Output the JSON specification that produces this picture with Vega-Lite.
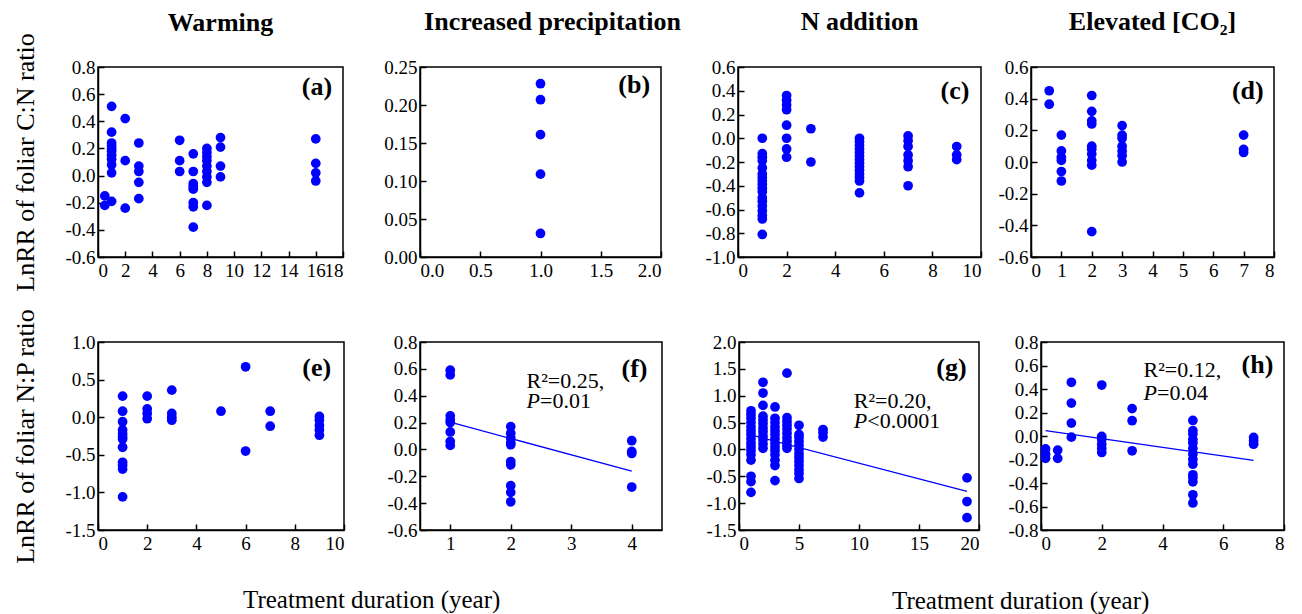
{
  "$schema": "https://vega.github.io/schema/vega-lite/v6.json",
  "padding": {"left": 11, "top": 8, "right": 5, "bottom": 0},
  "config": {
    "font": "Times New Roman, Liberation Serif, serif",
    "view": {"stroke": "black", "strokeWidth": 1.5},
    "axis": {
      "domainColor": "black", "domainWidth": 1.5,
      "tickColor": "black", "tickWidth": 1.5, "tickSize": -6,
      "labelFont": "Times New Roman, Liberation Serif, serif", "labelFontSize": 19, "labelColor": "black",
      "grid": false,
      "titleFont": "Times New Roman, Liberation Serif, serif", "titleFontSize": 26, "titleFontWeight": "normal", "titleColor": "black",
      "labelExpr": "replace(datum.label, '\u2212', '-')"
    },
    "axisX": {"labelPadding": 10, "title": null, "labelOverlap": false},
    "axisY": {"labelPadding": 9, "labelOverlap": false},
    "text": {"font": "Times New Roman, Liberation Serif, serif"},
    "title": {"font": "Times New Roman, Liberation Serif, serif", "fontSize": 26, "fontWeight": "bold", "color": "black", "frame": "group", "offset": 23}
  },
  "datasets": {
    "a": [
      {"x":0.5,"y":-0.15},{"x":0.5,"y":-0.22},
      {"x":1,"y":0.51},{"x":1,"y":0.32},{"x":1,"y":0.24},{"x":1,"y":0.22},{"x":1,"y":0.2},{"x":1,"y":0.18},{"x":1,"y":0.15},{"x":1,"y":0.12},{"x":1,"y":0.08},{"x":1,"y":0.02},{"x":1,"y":-0.19},
      {"x":2,"y":0.42},{"x":2,"y":0.11},{"x":2,"y":-0.24},
      {"x":3,"y":0.24},{"x":3,"y":0.07},{"x":3,"y":0.03},{"x":3,"y":-0.05},{"x":3,"y":-0.17},
      {"x":6,"y":0.26},{"x":6,"y":0.11},{"x":6,"y":0.03},
      {"x":7,"y":0.16},{"x":7,"y":0.03},{"x":7,"y":-0.06},{"x":7,"y":-0.08},{"x":7,"y":-0.1},{"x":7,"y":-0.2},{"x":7,"y":-0.23},{"x":7,"y":-0.38},
      {"x":8,"y":0.2},{"x":8,"y":0.17},{"x":8,"y":0.14},{"x":8,"y":0.11},{"x":8,"y":0.07},{"x":8,"y":0.03},{"x":8,"y":-0.01},{"x":8,"y":-0.05},{"x":8,"y":-0.22},
      {"x":9,"y":0.28},{"x":9,"y":0.21},{"x":9,"y":0.07},{"x":9,"y":-0.01},
      {"x":16,"y":0.27},{"x":16,"y":0.09},{"x":16,"y":0.02},{"x":16,"y":-0.04}
    ],
    "b": [
      {"x":1,"y":0.228},{"x":1,"y":0.207},{"x":1,"y":0.161},{"x":1,"y":0.109},{"x":1,"y":0.031}
    ],
    "c": [
      {"x":1,"y":0.0},{"x":1,"y":-0.13},{"x":1,"y":-0.16},{"x":1,"y":-0.19},{"x":1,"y":-0.25},{"x":1,"y":-0.3},{"x":1,"y":-0.33},{"x":1,"y":-0.36},{"x":1,"y":-0.39},{"x":1,"y":-0.42},{"x":1,"y":-0.45},{"x":1,"y":-0.5},{"x":1,"y":-0.53},{"x":1,"y":-0.57},{"x":1,"y":-0.61},{"x":1,"y":-0.65},{"x":1,"y":-0.68},{"x":1,"y":-0.81},
      {"x":2,"y":0.36},{"x":2,"y":0.32},{"x":2,"y":0.28},{"x":2,"y":0.24},{"x":2,"y":0.11},{"x":2,"y":0.0},{"x":2,"y":-0.09},{"x":2,"y":-0.16},
      {"x":3,"y":0.08},{"x":3,"y":-0.2},
      {"x":5,"y":0.0},{"x":5,"y":-0.03},{"x":5,"y":-0.06},{"x":5,"y":-0.09},{"x":5,"y":-0.12},{"x":5,"y":-0.15},{"x":5,"y":-0.18},{"x":5,"y":-0.21},{"x":5,"y":-0.24},{"x":5,"y":-0.27},{"x":5,"y":-0.3},{"x":5,"y":-0.33},{"x":5,"y":-0.36},{"x":5,"y":-0.46},
      {"x":7,"y":0.02},{"x":7,"y":-0.02},{"x":7,"y":-0.07},{"x":7,"y":-0.14},{"x":7,"y":-0.19},{"x":7,"y":-0.24},{"x":7,"y":-0.4},
      {"x":9,"y":-0.07},{"x":9,"y":-0.14},{"x":9,"y":-0.18}
    ],
    "d": [
      {"x":0.6,"y":0.45},{"x":0.6,"y":0.365},
      {"x":1,"y":0.17},{"x":1,"y":0.07},{"x":1,"y":0.03},{"x":1,"y":0.01},{"x":1,"y":-0.06},{"x":1,"y":-0.12},
      {"x":2,"y":0.42},{"x":2,"y":0.32},{"x":2,"y":0.26},{"x":2,"y":0.24},{"x":2,"y":0.1},{"x":2,"y":0.08},{"x":2,"y":0.05},{"x":2,"y":0.01},{"x":2,"y":-0.02},{"x":2,"y":-0.44},
      {"x":3,"y":0.23},{"x":3,"y":0.17},{"x":3,"y":0.15},{"x":3,"y":0.1},{"x":3,"y":0.07},{"x":3,"y":0.04},{"x":3,"y":0.0},
      {"x":7,"y":0.17},{"x":7,"y":0.08},{"x":7,"y":0.06}
    ],
    "e": [
      {"x":1,"y":0.28},{"x":1,"y":0.08},{"x":1,"y":-0.06},{"x":1,"y":-0.17},{"x":1,"y":-0.22},{"x":1,"y":-0.26},{"x":1,"y":-0.29},{"x":1,"y":-0.4},{"x":1,"y":-0.6},{"x":1,"y":-0.64},{"x":1,"y":-0.69},{"x":1,"y":-1.06},
      {"x":2,"y":0.28},{"x":2,"y":0.11},{"x":2,"y":0.05},{"x":2,"y":-0.02},
      {"x":3,"y":0.36},{"x":3,"y":0.05},{"x":3,"y":0.0},{"x":3,"y":-0.04},
      {"x":5,"y":0.08},
      {"x":6,"y":0.67},{"x":6,"y":-0.45},
      {"x":7,"y":0.08},{"x":7,"y":-0.12},
      {"x":9,"y":0.01},{"x":9,"y":-0.04},{"x":9,"y":-0.11},{"x":9,"y":-0.17},{"x":9,"y":-0.24}
    ],
    "f": [
      {"x":1,"y":0.59},{"x":1,"y":0.555},{"x":1,"y":0.25},{"x":1,"y":0.22},{"x":1,"y":0.2},{"x":1,"y":0.13},{"x":1,"y":0.06},{"x":1,"y":0.03},
      {"x":2,"y":0.17},{"x":2,"y":0.12},{"x":2,"y":0.085},{"x":2,"y":0.05},{"x":2,"y":0.035},{"x":2,"y":-0.09},{"x":2,"y":-0.115},{"x":2,"y":-0.27},{"x":2,"y":-0.32},{"x":2,"y":-0.39},
      {"x":4,"y":0.065},{"x":4,"y":-0.015},{"x":4,"y":-0.03},{"x":4,"y":-0.28}
    ],
    "g": [
      {"x":1,"y":0.72},{"x":1,"y":0.65},{"x":1,"y":0.58},{"x":1,"y":0.5},{"x":1,"y":0.42},{"x":1,"y":0.35},{"x":1,"y":0.28},{"x":1,"y":0.2},{"x":1,"y":0.12},{"x":1,"y":0.05},{"x":1,"y":-0.02},{"x":1,"y":-0.1},{"x":1,"y":-0.2},{"x":1,"y":-0.5},{"x":1,"y":-0.6},{"x":1,"y":-0.8},
      {"x":2,"y":1.25},{"x":2,"y":1.05},{"x":2,"y":0.82},{"x":2,"y":0.62},{"x":2,"y":0.55},{"x":2,"y":0.48},{"x":2,"y":0.4},{"x":2,"y":0.33},{"x":2,"y":0.25},{"x":2,"y":0.18},{"x":2,"y":0.1},{"x":2,"y":0.02},
      {"x":3,"y":0.79},{"x":3,"y":0.58},{"x":3,"y":0.5},{"x":3,"y":0.42},{"x":3,"y":0.35},{"x":3,"y":0.28},{"x":3,"y":0.2},{"x":3,"y":0.12},{"x":3,"y":0.05},{"x":3,"y":-0.02},{"x":3,"y":-0.1},{"x":3,"y":-0.2},{"x":3,"y":-0.3},{"x":3,"y":-0.58},
      {"x":4,"y":1.42},{"x":4,"y":0.59},{"x":4,"y":0.52},{"x":4,"y":0.45},{"x":4,"y":0.38},{"x":4,"y":0.3},{"x":4,"y":0.22},{"x":4,"y":0.15},{"x":4,"y":0.08},{"x":4,"y":0.02},
      {"x":5,"y":0.45},{"x":5,"y":0.28},{"x":5,"y":0.22},{"x":5,"y":0.15},{"x":5,"y":0.08},{"x":5,"y":0.0},{"x":5,"y":-0.08},{"x":5,"y":-0.15},{"x":5,"y":-0.22},{"x":5,"y":-0.3},{"x":5,"y":-0.38},{"x":5,"y":-0.45},{"x":5,"y":-0.54},
      {"x":7,"y":0.37},{"x":7,"y":0.31},{"x":7,"y":0.23},
      {"x":19,"y":-0.53},{"x":19,"y":-0.97},{"x":19,"y":-1.27}
    ],
    "h": [
      {"x":0.15,"y":-0.11},{"x":0.15,"y":-0.155},{"x":0.15,"y":-0.19},
      {"x":0.55,"y":-0.12},{"x":0.55,"y":-0.19},
      {"x":1,"y":0.457},{"x":1,"y":0.28},{"x":1,"y":0.11},{"x":1,"y":-0.01},
      {"x":2,"y":0.434},{"x":2,"y":-0.003},{"x":2,"y":-0.03},{"x":2,"y":-0.07},{"x":2,"y":-0.106},{"x":2,"y":-0.14},
      {"x":3,"y":0.233},{"x":3,"y":0.13},{"x":3,"y":-0.126},
      {"x":5,"y":0.132},{"x":5,"y":0.046},{"x":5,"y":0.017},{"x":5,"y":-0.03},{"x":5,"y":-0.06},{"x":5,"y":-0.106},{"x":5,"y":-0.155},{"x":5,"y":-0.2},{"x":5,"y":-0.24},{"x":5,"y":-0.33},{"x":5,"y":-0.356},{"x":5,"y":-0.39},{"x":5,"y":-0.5},{"x":5,"y":-0.57},
      {"x":7,"y":-0.012},{"x":7,"y":-0.04},{"x":7,"y":-0.07}
    ]
  },
  "spacing": 14,
  "vconcat": [
    {
      "spacing": 14,
      "hconcat": [
        {
          "bounds": "flush",
          "spacing": 77,
          "hconcat": [
            {
              "width": 245, "height": 190,
              "title": {"text": "Warming", "dy": 26},
              "encoding": {
                "x": {"field": "x", "type": "quantitative", "scale": {"domain": [0, 18], "nice": false, "zero": false}, "axis": {"values": [0,2,4,6,8,10,12,14,16,18], "format": "d"}},
                "y": {"field": "y", "type": "quantitative", "scale": {"domain": [-0.6, 0.8], "nice": false, "zero": false}, "axis": {"values": [-0.6,-0.4,-0.2,0,0.2,0.4,0.6,0.8], "format": ".1f", "title": "LnRR of foliar C:N ratio", "titlePadding": 20, "minExtent": 40, "maxExtent": 40}}
              },
              "layer": [
                {"data": {"name": "a"}, "mark": {"type": "point", "filled": true, "size": 95, "color": "#0000ff", "opacity": 1}},
                {"data": {"values": [{"x": 17.2, "y": 0.65, "t": "(a)"}]}, "mark": {"type": "text", "align": "right", "baseline": "middle", "fontWeight": "bold", "fontSize": 26, "color": "black"}, "encoding": {"text": {"field": "t"}}}
              ]
            },
            {
              "width": 241, "height": 190,
              "title": {"text": "Increased precipitation", "dx": 12},
              "encoding": {
                "x": {"field": "x", "type": "quantitative", "scale": {"domain": [0, 2], "nice": false, "zero": false}, "axis": {"values": [0,0.5,1,1.5,2], "format": ".1f"}},
                "y": {"field": "y", "type": "quantitative", "scale": {"domain": [0, 0.25], "nice": false, "zero": false}, "axis": {"values": [0,0.05,0.1,0.15,0.2,0.25], "format": ".2f", "title": null}}
              },
              "layer": [
                {"data": {"name": "b"}, "mark": {"type": "point", "filled": true, "size": 95, "color": "#0000ff", "opacity": 1}},
                {"data": {"values": [{"x": 1.91, "y": 0.226, "t": "(b)"}]}, "mark": {"type": "text", "align": "right", "baseline": "middle", "fontWeight": "bold", "fontSize": 26, "color": "black"}, "encoding": {"text": {"field": "t"}}}
              ]
            },
            {
              "width": 243, "height": 190,
              "title": {"text": "N addition"},
              "encoding": {
                "x": {"field": "x", "type": "quantitative", "scale": {"domain": [0, 10], "nice": false, "zero": false}, "axis": {"values": [0,2,4,6,8,10], "format": "d"}},
                "y": {"field": "y", "type": "quantitative", "scale": {"domain": [-1.0, 0.6], "nice": false, "zero": false}, "axis": {"values": [-1,-0.8,-0.6,-0.4,-0.2,0,0.2,0.4,0.6], "format": ".1f", "title": null}}
              },
              "layer": [
                {"data": {"name": "c"}, "mark": {"type": "point", "filled": true, "size": 95, "color": "#0000ff", "opacity": 1}},
                {"data": {"values": [{"x": 9.52, "y": 0.394, "t": "(c)"}]}, "mark": {"type": "text", "align": "right", "baseline": "middle", "fontWeight": "bold", "fontSize": 26, "color": "black"}, "encoding": {"text": {"field": "t"}}}
              ]
            }
          ]
        },
        {
          "width": 243, "height": 190,
          "title": {"text": "Elevated [CO₂]"},
          "encoding": {
            "x": {"field": "x", "type": "quantitative", "scale": {"domain": [0, 8], "nice": false, "zero": false}, "axis": {"values": [0,1,2,3,4,5,6,7,8], "format": "d"}},
            "y": {"field": "y", "type": "quantitative", "scale": {"domain": [-0.6, 0.6], "nice": false, "zero": false}, "axis": {"values": [-0.6,-0.4,-0.2,0,0.2,0.4,0.6], "format": ".1f", "title": null}}
          },
          "layer": [
            {"data": {"name": "d"}, "mark": {"type": "point", "filled": true, "size": 95, "color": "#0000ff", "opacity": 1}},
            {"data": {"values": [{"x": 7.66, "y": 0.45, "t": "(d)"}]}, "mark": {"type": "text", "align": "right", "baseline": "middle", "fontWeight": "bold", "fontSize": 26, "color": "black"}, "encoding": {"text": {"field": "t"}}}
          ]
        }
      ]
    },
    {
      "spacing": 42,
      "hconcat": [
        {
          "bounds": "flush",
          "spacing": 76,
          "title": {"text": "Treatment duration (year)", "orient": "bottom", "fontSize": 25, "fontWeight": "normal", "offset": 23, "dx": 145},
          "hconcat": [
            {
              "width": 246, "height": 188,
              "encoding": {
                "x": {"field": "x", "type": "quantitative", "scale": {"domain": [0, 10], "nice": false, "zero": false}, "axis": {"values": [0,2,4,6,8,10], "format": "d"}},
                "y": {"field": "y", "type": "quantitative", "scale": {"domain": [-1.5, 1.0], "nice": false, "zero": false}, "axis": {"values": [-1.5,-1,-0.5,0,0.5,1], "format": ".1f", "title": "LnRR of foliar N:P ratio", "titlePadding": 20, "minExtent": 40, "maxExtent": 40}}
              },
              "layer": [
                {"data": {"name": "e"}, "mark": {"type": "point", "filled": true, "size": 95, "color": "#0000ff", "opacity": 1}},
                {"data": {"values": [{"x": 9.48, "y": 0.658, "t": "(e)"}]}, "mark": {"type": "text", "align": "right", "baseline": "middle", "fontWeight": "bold", "fontSize": 26, "color": "black"}, "encoding": {"text": {"field": "t"}}}
              ]
            },
            {
              "width": 242, "height": 188,
              "encoding": {
                "x": {"field": "x", "type": "quantitative", "scale": {"domain": [0.5, 4.5], "nice": false, "zero": false}, "axis": {"values": [1,2,3,4], "format": "d"}},
                "y": {"field": "y", "type": "quantitative", "scale": {"domain": [-0.6, 0.8], "nice": false, "zero": false}, "axis": {"values": [-0.6,-0.4,-0.2,0,0.2,0.4,0.6,0.8], "format": ".1f", "title": null}}
              },
              "layer": [
                {"data": {"name": "f"}, "mark": {"type": "point", "filled": true, "size": 95, "color": "#0000ff", "opacity": 1}},
                {"data": {"values": [{"x": 1, "y": 0.203}, {"x": 4, "y": -0.162}]}, "mark": {"type": "line", "color": "#0000ff", "strokeWidth": 1.3}, "encoding": {}},
                {"data": {"values": [{"x": 4.26, "y": 0.6, "t": "(f)"}]}, "mark": {"type": "text", "align": "right", "baseline": "middle", "fontWeight": "bold", "fontSize": 26, "color": "black"}, "encoding": {"text": {"field": "t"}}},
                {"data": {"values": [{"x": 2.26, "y": 0.512, "t": "R²=0.25,"}]}, "mark": {"type": "text", "align": "left", "baseline": "middle", "fontSize": 22, "color": "black"}, "encoding": {"text": {"field": "t"}}},
                {"data": {"values": [{"x": 2.26, "y": 0.361, "t": "=0.01"}]}, "mark": {"type": "text", "align": "left", "baseline": "middle", "fontSize": 22, "color": "black", "dx": 13.5}, "encoding": {"text": {"field": "t"}}},
                {"data": {"values": [{"x": 2.26, "y": 0.361, "t": "P"}]}, "mark": {"type": "text", "align": "left", "baseline": "middle", "fontSize": 22, "fontStyle": "italic", "color": "black"}, "encoding": {"text": {"field": "t"}}}
              ]
            }
          ]
        },
        {
          "bounds": "flush",
          "spacing": 62,
          "title": {"text": "Treatment duration (year)", "orient": "bottom", "fontSize": 25, "fontWeight": "normal", "offset": 35, "dx": 153},
          "hconcat": [
            {
              "width": 240, "height": 188,
              "encoding": {
                "x": {"field": "x", "type": "quantitative", "scale": {"domain": [0, 20], "nice": false, "zero": false}, "axis": {"values": [0,5,10,15,20], "format": "d"}},
                "y": {"field": "y", "type": "quantitative", "scale": {"domain": [-1.5, 2.0], "nice": false, "zero": false}, "axis": {"values": [-1.5,-1,-0.5,0,0.5,1,1.5,2], "format": ".1f", "title": null}}
              },
              "layer": [
                {"data": {"name": "g"}, "mark": {"type": "point", "filled": true, "size": 95, "color": "#0000ff", "opacity": 1}},
                {"data": {"values": [{"x": 1, "y": 0.27}, {"x": 19, "y": -0.78}]}, "mark": {"type": "line", "color": "#0000ff", "strokeWidth": 1.3}, "encoding": {}},
                {"data": {"values": [{"x": 18.97, "y": 1.507, "t": "(g)"}]}, "mark": {"type": "text", "align": "right", "baseline": "middle", "fontWeight": "bold", "fontSize": 26, "color": "black"}, "encoding": {"text": {"field": "t"}}},
                {"data": {"values": [{"x": 9.56, "y": 0.908, "t": "R²=0.20,"}]}, "mark": {"type": "text", "align": "left", "baseline": "middle", "fontSize": 22, "color": "black"}, "encoding": {"text": {"field": "t"}}},
                {"data": {"values": [{"x": 9.56, "y": 0.53, "t": "<0.0001"}]}, "mark": {"type": "text", "align": "left", "baseline": "middle", "fontSize": 22, "color": "black", "dx": 13.5}, "encoding": {"text": {"field": "t"}}},
                {"data": {"values": [{"x": 9.56, "y": 0.53, "t": "P"}]}, "mark": {"type": "text", "align": "left", "baseline": "middle", "fontSize": 22, "fontStyle": "italic", "color": "black"}, "encoding": {"text": {"field": "t"}}}
              ]
            },
            {
              "width": 243, "height": 188,
              "encoding": {
                "x": {"field": "x", "type": "quantitative", "scale": {"domain": [0, 8], "nice": false, "zero": false}, "axis": {"values": [0,2,4,6,8], "format": "d"}},
                "y": {"field": "y", "type": "quantitative", "scale": {"domain": [-0.8, 0.8], "nice": false, "zero": false}, "axis": {"values": [-0.8,-0.6,-0.4,-0.2,0,0.2,0.4,0.6,0.8], "format": ".1f", "title": null}}
              },
              "layer": [
                {"data": {"name": "h"}, "mark": {"type": "point", "filled": true, "size": 95, "color": "#0000ff", "opacity": 1}},
                {"data": {"values": [{"x": 0.15, "y": 0.046}, {"x": 7, "y": -0.207}]}, "mark": {"type": "line", "color": "#0000ff", "strokeWidth": 1.3}, "encoding": {}},
                {"data": {"values": [{"x": 7.65, "y": 0.606, "t": "(h)"}]}, "mark": {"type": "text", "align": "right", "baseline": "middle", "fontWeight": "bold", "fontSize": 26, "color": "black"}, "encoding": {"text": {"field": "t"}}},
                {"data": {"values": [{"x": 3.375, "y": 0.563, "t": "R²=0.12,"}]}, "mark": {"type": "text", "align": "left", "baseline": "middle", "fontSize": 22, "color": "black"}, "encoding": {"text": {"field": "t"}}},
                {"data": {"values": [{"x": 3.375, "y": 0.362, "t": "=0.04"}]}, "mark": {"type": "text", "align": "left", "baseline": "middle", "fontSize": 22, "color": "black", "dx": 13.5}, "encoding": {"text": {"field": "t"}}},
                {"data": {"values": [{"x": 3.375, "y": 0.362, "t": "P"}]}, "mark": {"type": "text", "align": "left", "baseline": "middle", "fontSize": 22, "fontStyle": "italic", "color": "black"}, "encoding": {"text": {"field": "t"}}}
              ]
            }
          ]
        }
      ]
    }
  ]
}
